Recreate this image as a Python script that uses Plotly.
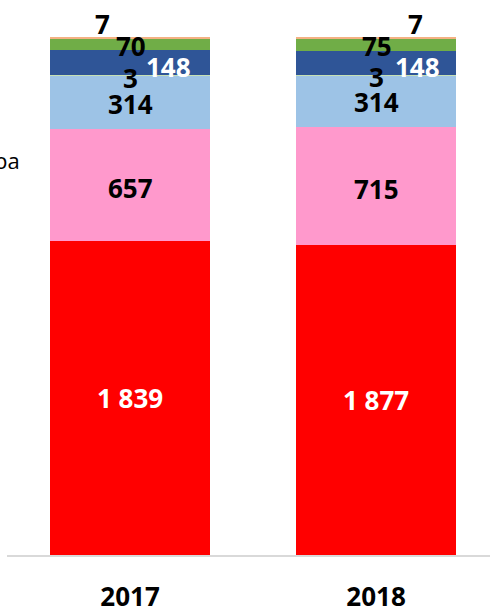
import plotly.graph_objects as go

years = ["2017", "2018"]
series_names = ["A", "B", "C", "D", "E", "F", "G"]
values = [
    [1839, 1877],
    [657, 715],
    [314, 314],
    [3, 3],
    [148, 148],
    [70, 75],
    [7, 7],
]
labels = [
    ["1 839", "1 877"],
    ["657", "715"],
    ["314", "314"],
    ["3", "3"],
    ["148", "148"],
    ["70", "75"],
    ["7", "7"],
]
colors = ["#FF0000", "#FF99CC", "#9DC3E6", "#C5E0B4", "#2F5597", "#70AD47", "#F4B183"]
label_colors = ["white", "black", "black", "black", "white", "black", "black"]
# per-series label offsets (px) for each year: (xshift, yshift)
shifts = [
    [(0, 0), (0, 0)],
    [(0, -3), (0, -3)],
    [(0, -1), (0, -1)],
    [(0, -2), (0, -2)],
    [(38, -4), (41, -4)],
    [(1, -2), (1, -2)],
    [(-28, 14), (39, 14)],
]

fig = go.Figure()
for name, vals, col in zip(series_names, values, colors):
    fig.add_trace(go.Bar(x=years, y=vals, name=name, marker=dict(color=col, line=dict(width=0)),
                         hoverinfo="skip"))

font_family = "Open Sans"
annotations = []
totals = [sum(v[i] for v in values) for i in range(len(years))]
for i, yr in enumerate(years):
    cum = 0.0
    for s, vals in enumerate(values):
        pct = vals[i] / totals[i] * 100
        center = cum + pct / 2
        cum += pct
        xs, ys = shifts[s][i]
        annotations.append(dict(
            x=i, y=center, xref="x", yref="y", text="<b>%s</b>" % labels[s][i],
            showarrow=False, xshift=xs, yshift=ys,
            font=dict(family=font_family, size=26, color=label_colors[s]),
        ))

annotations.append(dict(
    x=(22 - 7) / 483, y=(555 - 160) / 518, xref="paper", yref="paper", text="pa",
    xanchor="right", yanchor="middle", showarrow=False,
    font=dict(family=font_family, size=22, color="black"),
))

fig.update_layout(
    barmode="stack",
    barnorm="percent",
    bargap=0.35,
    width=490, height=609,
    margin=dict(l=7, r=0, t=37, b=54),
    plot_bgcolor="white", paper_bgcolor="white",
    showlegend=False,
    annotations=annotations,
    xaxis=dict(type="category", range=[-0.5, 1.463], showline=True, linecolor="#D9D9D9",
               linewidth=2, ticks="", showgrid=False, ticklabelstandoff=18, automargin=False,
               tickfont=dict(family=font_family, size=26, color="black"),
               tickvals=years, ticktext=["<b>%s</b>" % y for y in years]),
    yaxis=dict(range=[0, 100], visible=False, showgrid=False, automargin=False),
)

fig.write_html("out.html")
